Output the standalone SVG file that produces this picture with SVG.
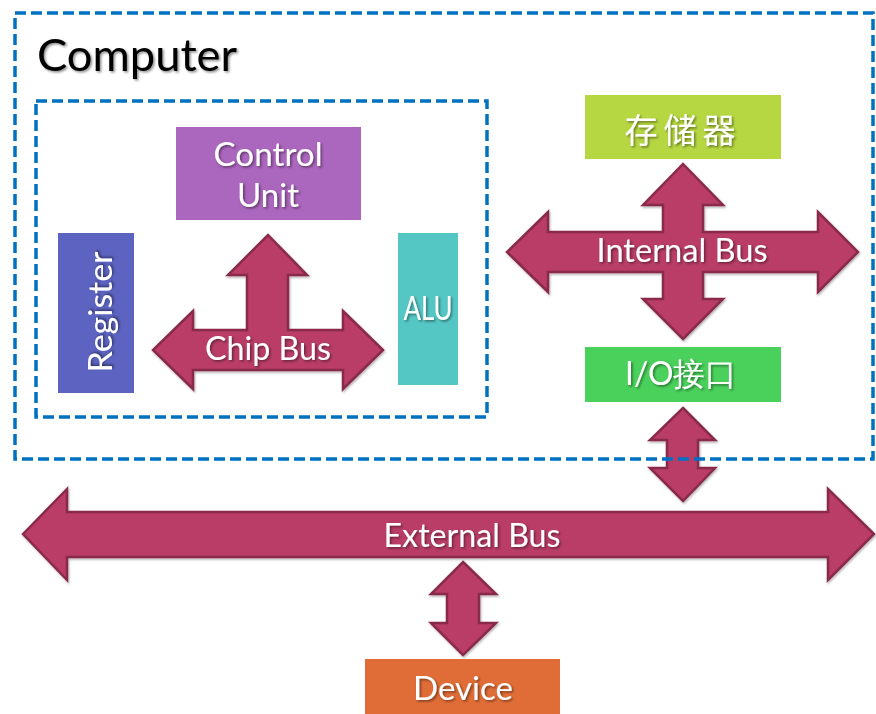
<svg xmlns="http://www.w3.org/2000/svg" width="876" height="714" viewBox="0 0 876 714">
<defs>
<filter id="ts" x="-10%" y="-30%" width="130%" height="170%">
<feDropShadow dx="1.5" dy="1.5" stdDeviation="1" flood-color="#000" flood-opacity="0.45"/>
</filter>
<filter id="as" x="-5%" y="-10%" width="115%" height="130%">
<feDropShadow dx="1" dy="1.5" stdDeviation="1.2" flood-color="#000" flood-opacity="0.3"/>
</filter>
</defs>
<style>
.box{stroke:none}
.frame{fill:none;stroke:#0070C0;stroke-width:3.5;stroke-dasharray:11 5}
.arrow{fill:#B93C66;stroke:#8A2A4C;stroke-width:2.5;stroke-linejoin:miter;filter:url(#as)}
.lbl{font-family:Lato,"Open Sans","Noto Sans",sans-serif;fill:#fff;text-anchor:middle;font-size:32px;filter:url(#ts)}
.cjk{font-family:"Noto Sans CJK SC",sans-serif;fill:#fff;text-anchor:middle;filter:url(#ts)}
</style>
<rect width="876" height="714" fill="#fff"/>

<g id="connectors">
<path class="arrow" d="M268,235 L307,275 L288,275 L288,330 L343,330 L343,311 L383,350 L343,389 L343,370 L193,370 L193,389 L153,350 L193,311 L193,330 L247,330 L247,275 L228,275 Z"/>
<path class="arrow" d="M683,164 L723,205 L703,205 L703,232 L818,232 L818,212 L858,252 L818,292 L818,272 L703,272 L703,299 L723,299 L683,339 L643,299 L663,299 L663,272 L548,272 L548,292 L507,252 L548,212 L548,232 L663,232 L663,205 L643,205 Z"/>
<path class="arrow" d="M683,408 L715,440 L698,440 L698,468 L715,468 L683,501 L650,468 L667,468 L667,440 L650,440 Z"/>
<path class="arrow" d="M23,534 L67,489 L67,512 L828,512 L828,489 L874,534 L828,580 L828,557 L67,557 L67,580 Z"/>
<path class="arrow" d="M463,562 L496,594 L479,594 L479,623 L496,623 L463,655 L431,623 L447,623 L447,594 L431,594 Z"/>
<text class="lbl" x="268" y="360" textLength="126" lengthAdjust="spacingAndGlyphs">Chip Bus</text>
<text class="lbl" x="682" y="262" textLength="171" lengthAdjust="spacingAndGlyphs">Internal Bus</text>
<text class="lbl" x="472" y="547" textLength="177" lengthAdjust="spacingAndGlyphs">External Bus</text>
</g>

<g id="computer">
<rect class="frame" x="15" y="13" width="858" height="446"/>
<text x="37" y="71" font-family="Lato,'Open Sans',sans-serif" font-size="44" fill="#000" filter="url(#ts)" textLength="200" lengthAdjust="spacingAndGlyphs">Computer</text>
</g>

<g id="cpu">
<rect class="frame" x="36" y="101" width="451" height="316"/>
</g>

<g id="control-unit">
<rect class="box" x="176" y="127" width="185" height="93" fill="#AB66BD"/>
<text class="lbl" x="268" y="166" textLength="109" lengthAdjust="spacingAndGlyphs">Control</text>
<text class="lbl" x="268" y="207" textLength="62" lengthAdjust="spacingAndGlyphs">Unit</text>
</g>

<g id="register">
<rect class="box" x="58" y="233" width="76" height="160" fill="#5C63C0"/>
<text class="lbl" transform="translate(112,312) rotate(-90)" x="0" y="0" textLength="121" lengthAdjust="spacingAndGlyphs">Register</text>
</g>

<g id="alu">
<rect class="box" x="398" y="233" width="60" height="152" fill="#54C7C4"/>
<text class="lbl" x="428" y="320" font-size="26" textLength="49" lengthAdjust="spacingAndGlyphs">ALU</text>
</g>

<g id="memory">
<rect class="box" x="585" y="95" width="196" height="64" fill="#B6D742"/>
<text class="cjk" x="683" y="143" font-size="34" letter-spacing="6" textLength="117" lengthAdjust="spacingAndGlyphs">存储器</text>
</g>

<g id="io">
<rect class="box" x="585" y="347" width="196" height="55" fill="#4AD15B"/>
<text class="lbl" x="681" y="385" font-family="Lato,'Noto Sans CJK SC',sans-serif" textLength="112" lengthAdjust="spacingAndGlyphs">I/O接口</text>
</g>

<g id="device">
<rect class="box" x="365" y="659" width="195" height="55" fill="#E06D37"/>
<text class="lbl" x="463" y="700" textLength="100" lengthAdjust="spacingAndGlyphs">Device</text>
</g>
</svg>
